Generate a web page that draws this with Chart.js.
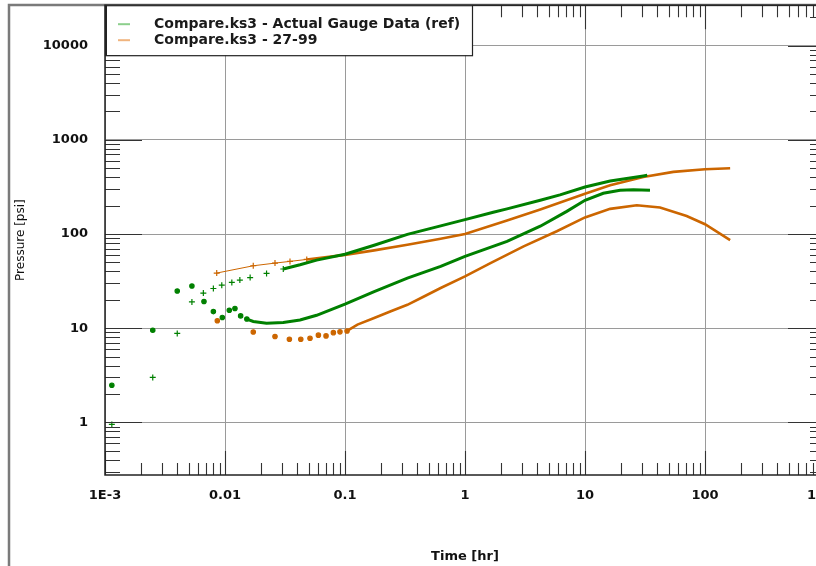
<!DOCTYPE html>
<html lang="en">
<head>
<meta charset="UTF-8">
<title>Compare.ks3</title>
<script src="https://cdn.jsdelivr.net/npm/chart.js@4.4.1/dist/chart.umd.min.js"></script>
<style>
    html, body { margin: 0; padding: 0; background: #fff; overflow: hidden; }
    #wrap { width: 816px; height: 566px; overflow: hidden; }
    #myChart { display: block; }
</style>
</head>
<body>
<div id="wrap"><canvas id="myChart" width="840" height="566"></canvas></div>
<script>
// --- data (time in hr, pressure in psi) ---
var gaugeTime   = [0.00114, 0.0025, 0.0040, 0.0053, 0.0066, 0.0080, 0.0094, 0.0114, 0.0133, 0.0162, 0.0222, 0.0306, 0.0422, 0.058, 0.1, 0.175, 0.331, 0.627, 1, 1.72, 2.24, 4.24, 6.19, 10, 16.2, 30.6, 33];
var gaugeP      = [0.95, 3.0, 8.8, 19, 23.6, 26.4, 28.6, 30.6, 32.4, 34.5, 38.1, 42.5, 47.1, 52.8, 61, 76, 99, 122, 142, 170, 185, 228, 260, 316, 366, 414, 420];
var gaugeDTime  = [0.00114, 0.0025, 0.0040, 0.0053, 0.00668, 0.0080, 0.0095, 0.01086, 0.0121, 0.0135, 0.0152, 0.0172, 0.0222, 0.0306, 0.0422, 0.058, 0.1, 0.175, 0.331, 0.627, 1, 2.24, 4.24, 7.05, 10, 14.2, 19.6, 25.3, 34.8];
var gaugeDP     = [2.48, 9.5, 24.8, 28, 19.2, 15.0, 13.0, 15.5, 16.2, 13.5, 12.5, 11.8, 11.3, 11.5, 12.2, 13.7, 18.0, 24.5, 34, 45.3, 58, 83.6, 121, 174, 228, 271, 292, 296, 292];
var modelTime   = [0.00853, 0.0172, 0.0261, 0.0348, 0.048, 0.1, 0.175, 0.331, 0.627, 1, 2.24, 4.24, 10, 16.2, 30.6, 54.5, 100, 162];
var modelP      = [38.5, 46, 49.1, 51.2, 53.7, 60, 67, 77, 89, 100, 139, 182, 268, 330, 404, 457, 488, 500];
var modelDTime  = [0.00863, 0.0172, 0.0261, 0.0344, 0.0428, 0.0511, 0.060, 0.0695, 0.080, 0.0908, 0.104, 0.127, 0.175, 0.241, 0.331, 0.455, 0.627, 1, 1.63, 3.08, 5.82, 10, 16.2, 27, 42.2, 70.3, 100, 162];
var modelDP     = [12.0, 9.1, 8.15, 7.64, 7.64, 7.83, 8.43, 8.28, 8.97, 9.14, 9.35, 10.9, 12.8, 15.1, 17.7, 21.7, 26.7, 35.5, 49.1, 74, 107, 150, 185, 202, 191, 155, 127, 86];

var seriesNames = ["Compare.ks3 - Actual Gauge Data (ref)", "Compare.ks3 - 27-99"];
var xTicks      = [0.001, 0.01, 0.1, 1, 10, 100, 1000];
var xTickLabels = ["1E-3", "0.01", "0.1", "1", "10", "100", "1000"];
var yTicks      = [1, 10, 100, 1000, 10000];
var yTickLabels = ["1", "10", "100", "1000", "10000"];

var GREEN = "#008000";
var ORANGE = "#cc6600";
var HIDDEN = "rgba(0,0,0,0)";

var f_pts = function(p_x, p_y){
    return p_x.map(function(v, i){ return {x: v, y: p_y[i]}; });
};

// markers only on the sparse early points, line only after them
var f_set = function(p_set){
    return {
        label: p_set.label,
        data: f_pts(p_set.xs, p_set.ys),
        showLine: true,
        borderColor: p_set.color,
        backgroundColor: p_set.color,
        borderWidth: p_set.width,
        pointStyle: p_set.marker,
        pointBorderWidth: 1.2,
        pointRadius: function(c){ return c.raw && c.raw.x < p_set.markUntil ? p_set.radius : 0; },
        segment: {
            borderColor: function(c){ return c.p0.parsed.x < p_set.lineFrom ? HIDDEN : p_set.color; },
            borderWidth: function(c){ return c.p0.parsed.x < p_set.thinUntil ? 1 : p_set.width; }
        }
    };
};

var fontFam = "'DejaVu Sans', Verdana, sans-serif";

var decoPlugin = {
    id: "deco",
    afterDraw: function(chart){
        var ctx = chart.ctx, a = chart.chartArea, xs = chart.scales.x, ys = chart.scales.y;
        ctx.save();
        // outer frame
        ctx.strokeStyle = "#7a7a7a";
        ctx.lineWidth = 2.5;
        ctx.beginPath();
        ctx.moveTo(9, chart.height);
        ctx.lineTo(9, 5);
        ctx.lineTo(chart.width, 5);
        ctx.stroke();

        // inward tick marks
        ctx.strokeStyle = "#333";
        ctx.lineWidth = 1.1;
        ctx.beginPath();
        for (var i = 0; i < xTicks.length - 1; i++) {
            for (var k = 1; k <= 9; k++) {
                var px = Math.round(xs.getPixelForValue(xTicks[i] * k)) + 0.5;
                var len = k === 1 ? 24 : 12;
                ctx.moveTo(px, a.bottom); ctx.lineTo(px, a.bottom - len);
                ctx.moveTo(px, a.top); ctx.lineTo(px, a.top + len);
            }
        }
        var yDec = [0.1].concat(yTicks);
        for (var j = 0; j < yDec.length; j++) {
            for (var m = 1; m <= 9; m++) {
                var v = yDec[j] * m;
                if (v < ys.min || v > ys.max) continue;
                var py = Math.round(ys.getPixelForValue(v)) + 0.5;
                var ln = m === 1 ? 37 : 15;
                ctx.moveTo(a.left, py); ctx.lineTo(a.left + ln, py);
                ctx.moveTo(a.right, py); ctx.lineTo(a.right - ln, py);
            }
        }
        ctx.stroke();

        // plot border
        ctx.strokeStyle = "#222";
        ctx.lineWidth = 1.5;
        ctx.strokeRect(a.left, a.top, a.right - a.left, a.bottom - a.top);

        // legend box
        var lx = a.left, ly = a.top, lw = 367, lh = 50;
        ctx.fillStyle = "#fff";
        ctx.fillRect(lx, ly, lw, lh);
        ctx.strokeStyle = "#222";
        ctx.lineWidth = 1.2;
        ctx.strokeRect(lx + 0.5, ly + 0.5, lw, lh);
        ctx.lineWidth = 2;
        ctx.beginPath();
        ctx.moveTo(lx + 1, ly); ctx.lineTo(lx + 1, ly + lh);
        ctx.stroke();
        var marks = ["#8ccf8c", "#f0b47e"];
        ctx.font = "bold 14px " + fontFam;
        ctx.textBaseline = "middle";
        ctx.textAlign = "left";
        for (var r = 0; r < seriesNames.length; r++) {
            var ry = ly + 19 + r * 16;
            ctx.strokeStyle = marks[r];
            ctx.lineWidth = 2;
            ctx.beginPath();
            ctx.moveTo(lx + 13, ry); ctx.lineTo(lx + 25, ry);
            ctx.stroke();
            ctx.fillStyle = "#1a1a1a";
            ctx.fillText(seriesNames[r], lx + 49, ry);
        }
        ctx.restore();
    }
};

const ctx = document.getElementById("myChart").getContext("2d");
const myChart = new Chart(ctx, {
    type: "scatter",
    data: {
        datasets: [
            f_set({label: seriesNames[0], xs: gaugeTime, ys: gaugeP, color: GREEN, width: 3, marker: "cross", radius: 3, markUntil: 0.035, lineFrom: 0.03, thinUntil: 0}),
            f_set({label: seriesNames[0] + " derivative", xs: gaugeDTime, ys: gaugeDP, color: GREEN, width: 3, marker: "circle", radius: 2.2, markUntil: 0.016, lineFrom: 0.015, thinUntil: 0}),
            f_set({label: seriesNames[1], xs: modelTime, ys: modelP, color: ORANGE, width: 2.6, marker: "cross", radius: 3, markUntil: 0.05, lineFrom: 0, thinUntil: 0.045}),
            f_set({label: seriesNames[1] + " derivative", xs: modelDTime, ys: modelDP, color: ORANGE, width: 2.6, marker: "circle", radius: 2.2, markUntil: 0.11, lineFrom: 0.1, thinUntil: 0})
        ]
    },
    options: {
        responsive: false,
        animation: false,
        layout: { padding: { top: 5, right: 15, left: 0, bottom: 0 } },
        plugins: { legend: { display: false }, tooltip: { enabled: false } },
        scales: {
            x: {
                type: "logarithmic",
                min: 0.001,
                max: 1000,
                afterBuildTicks: function(s){ s.ticks = xTicks.map(function(v){ return {value: v}; }); },
                afterFit: function(s){ s.height = 91; s.paddingLeft = 0; s.paddingRight = 0; },
                grid: { color: "#9a9a9a", lineWidth: 1, drawTicks: false },
                border: { display: false },
                ticks: {
                    autoSkip: false, maxRotation: 0, padding: 13, color: "#111",
                    font: { family: fontFam, size: 13, weight: "bold" },
                    callback: function(v){ return xTickLabels[xTicks.indexOf(v)]; }
                },
                title: { display: true, text: "Time [hr]", color: "#111", padding: { top: 0, bottom: 2 },
                         font: { family: fontFam, size: 13, weight: "bold" } }
            },
            y: {
                type: "logarithmic",
                min: 0.276,
                max: 26900,
                afterBuildTicks: function(s){ s.ticks = yTicks.map(function(v){ return {value: v}; }); },
                afterFit: function(s){ s.width = 105; s.paddingTop = 0; s.paddingBottom = 0; },
                grid: { color: "#9a9a9a", lineWidth: 1, drawTicks: false },
                border: { display: false },
                ticks: {
                    autoSkip: false, padding: 17, color: "#111",
                    font: { family: fontFam, size: 13, weight: "bold" },
                    callback: function(v){ return yTickLabels[yTicks.indexOf(v)]; }
                },
                title: { display: true, text: "Pressure [psi]", color: "#111", padding: { top: 14, bottom: 0 },
                         font: { family: fontFam, size: 12 } }
            }
        }
    },
    plugins: [decoPlugin]
});
</script>
</body>
</html>
